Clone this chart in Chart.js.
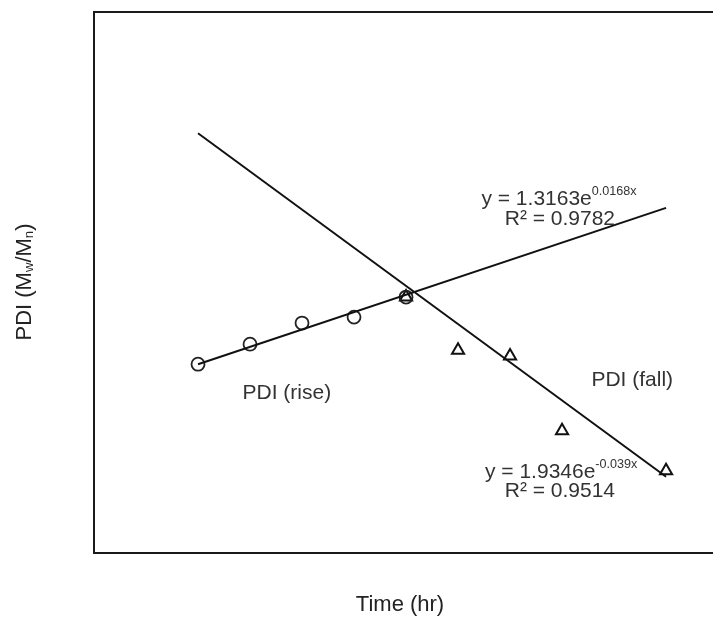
<!DOCTYPE html>
<html>
<head>
<meta charset="utf-8">
<script src="https://cdn.jsdelivr.net/npm/chart.js@4.4.0/dist/chart.umd.min.js"></script>
<style>
  html, body { margin: 0; padding: 0; background: #fff; overflow: hidden; }
</style>
</head>
<body>
<canvas id="myChart" width="713" height="621"></canvas>
<script>
// time (hr) and PDI values
const riseTime = [0, 12, 24, 36, 48];
const risePdi = [1.349, 1.386, 1.425, 1.436, 1.473];
const fallTime = [48, 60, 72, 84, 108];
const fallPdi = [1.473, 1.375, 1.364, 1.226, 1.152];

// trend line end points
const riseFitTime = [0, 108];
const riseFitPdi = [1.349, 1.638];
const fallFitTime = [0, 108];
const fallFitPdi = [1.776, 1.141];

const toPoints = (xs, ys) => xs.map((x, i) => ({ x: x, y: ys[i] }));

// text placed on the plot in data units
const notes = [
  { x: 83.3, y: 1.654, parts: [["y = 1.3163e", 0], ["0.0168x", -1]] },
  { x: 83.5, y: 1.6165, parts: [["R² = 0.9782", 0]] },
  { x: 20.5, y: 1.296, parts: [["PDI (rise)", 0]] },
  { x: 100.2, y: 1.320, parts: [["PDI (fall)", 0]] },
  { x: 83.8, y: 1.150, parts: [["y = 1.9346e", 0], ["-0.039x", -1]] },
  { x: 83.5, y: 1.114, parts: [["R² = 0.9514", 0]] }
];

function drawParts(ctx, parts, cx, cy, size) {
  // measure, then draw centred with superscripts / subscripts
  let w = 0;
  parts.forEach(p => {
    ctx.font = (p[1] ? size * 0.6 : size) + "px 'Liberation Sans', Arial, sans-serif";
    w += ctx.measureText(p[0]).width;
  });
  let x = cx - w / 2;
  parts.forEach(p => {
    let s = p[1] ? size * 0.6 : size;
    ctx.font = s + "px 'Liberation Sans', Arial, sans-serif";
    ctx.fillText(p[0], x, cy + p[1] * size * 0.36);
    x += ctx.measureText(p[0]).width;
  });
}

const decorPlugin = {
  id: "decor",
  afterDraw(chart) {
    const ctx = chart.ctx;
    const a = chart.chartArea;
    const xs = chart.scales.x, ys = chart.scales.y;
    ctx.save();
    // frame
    ctx.strokeStyle = "#1a1a1a";
    ctx.lineWidth = 2;
    ctx.strokeRect(a.left, a.top, a.right - a.left + 6, a.bottom - a.top);
    // notes
    ctx.fillStyle = "#333";
    ctx.textBaseline = "middle";
    ctx.textAlign = "left";
    notes.forEach(n => {
      drawParts(ctx, n.parts, xs.getPixelForValue(n.x), ys.getPixelForValue(n.y), 21);
    });
    // x title
    ctx.fillStyle = "#222";
    drawParts(ctx, [["Time (hr)", 0]], 400, 605, 22);
    // y title (rotated, with subscripts)
    ctx.translate(25, 282);
    ctx.rotate(-Math.PI / 2);
    drawParts(ctx, [["PDI (M", 0], ["w", 0.6], ["/M", 0], ["n", 0.6], [")", 0]], 0, 0, 22);
    ctx.restore();
  }
};

const ctx = document.getElementById("myChart").getContext("2d");
const myChart = new Chart(ctx, {
  type: "scatter",
  data: {
    datasets: [
      {
        label: "rise fit",
        type: "line",
        data: toPoints(riseFitTime, riseFitPdi),
        borderColor: "#111",
        borderWidth: 2,
        pointRadius: 0,
        fill: false
      },
      {
        label: "fall fit",
        type: "line",
        data: toPoints(fallFitTime, fallFitPdi),
        borderColor: "#111",
        borderWidth: 2,
        pointRadius: 0,
        fill: false
      },
      {
        label: "PDI (rise)",
        data: toPoints(riseTime, risePdi),
        pointStyle: "circle",
        pointRadius: 6.5,
        borderColor: "#222",
        borderWidth: 1.8,
        backgroundColor: "rgba(255,255,255,0)"
      },
      {
        label: "PDI (fall)",
        data: toPoints(fallTime, fallPdi),
        pointStyle: "triangle",
        pointRadius: 7,
        borderColor: "#111",
        borderWidth: 2,
        backgroundColor: "rgba(255,255,255,0)"
      }
    ]
  },
  options: {
    responsive: false,
    animation: false,
    layout: { autoPadding: false, padding: { left: 94, top: 12, right: 1, bottom: 68 } },
    plugins: { legend: { display: false }, tooltip: { enabled: false } },
    scales: {
      x: { type: "linear", min: -24, max: 118.6, display: false },
      y: { type: "linear", min: 1.0, max: 2.0, display: false }
    }
  },
  plugins: [decorPlugin]
});
</script>
</body>
</html>
